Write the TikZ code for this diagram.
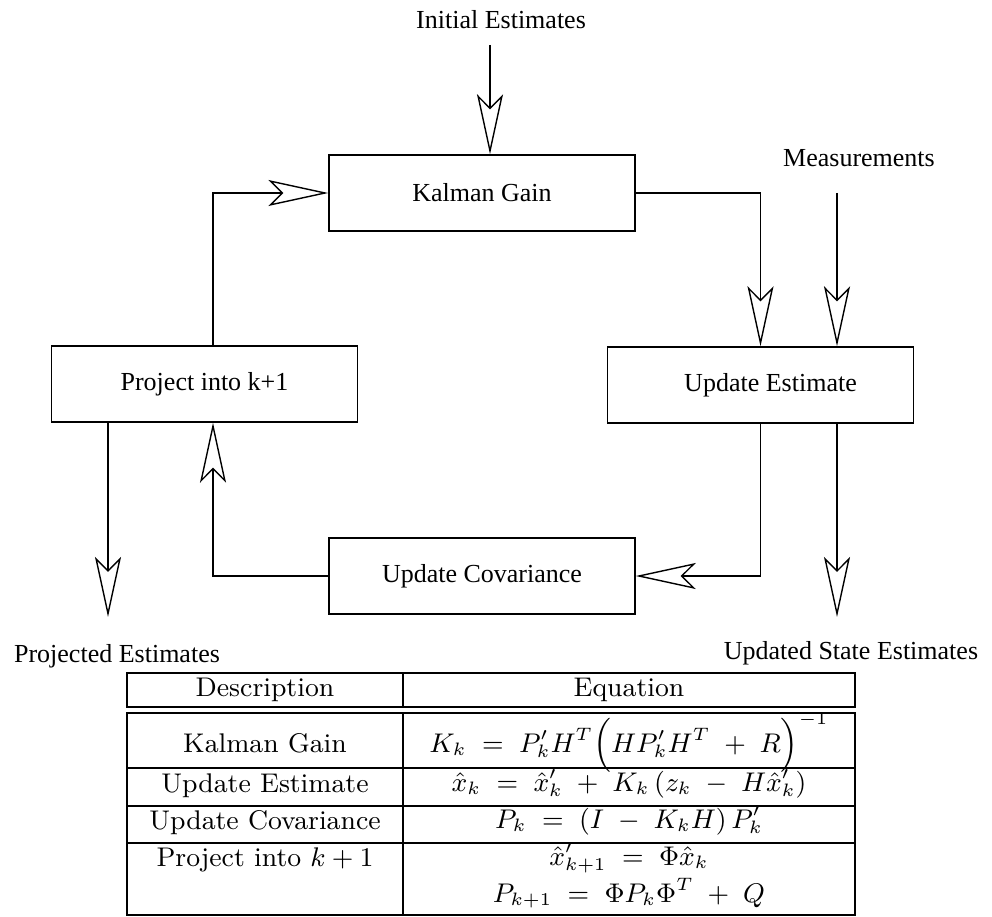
\RequirePackage{fix-cm}
\documentclass[tikz,border=0pt]{standalone}
\usepackage{graphicx}
\usepackage{fontspec}
\newfontfamily\tnr{Liberation Serif}
\usetikzlibrary{arrows.meta}
\newcommand{\lab}{\tnr\fontsize{26}{30}\selectfont}
\newcommand{\tcx}[1]{\scalebox{3}{\fontsize{9}{11}\selectfont #1}}
\newcommand{\gapsp}{\;}
\begin{document}
\begin{tikzpicture}[x=1pt,y=-1pt,
  box/.style={draw, line width=1.4pt, rectangle, minimum width=306pt, minimum height=76pt, inner sep=0pt, font=\lab},
  lbl/.style={font=\lab, inner sep=0pt},
  flow/.style={line width=1.4pt, -{Stealth[open, length=60pt, width=26pt, inset=13pt]}},
  tline/.style={line width=2.4pt},
  tcell/.style={inner sep=0pt, anchor=base}]
\useasboundingbox (0,0) rectangle (992,917);

% boxes
\node[box] (kal)  at (482,193)   {Kalman Gain};
\node[box] (upd)  at (760.5,385) {\hspace*{20pt}Update Estimate};
\node[box] (proj) at (204.5,384) {Project into k+1};
\node[box] (cov)  at (482,576)   {Update Covariance};

% free labels
\node[lbl] (init) at (501,20)  {Initial Estimates};
\node[lbl] (meas) at (859,158) {Measurements};
\node[lbl] (pe)   at (117,656) {Projected Estimates};
\node[lbl] (use)  at (851,653) {Updated State Estimates};

% helper coordinates
\coordinate (i0) at (490,45);
\coordinate (m0) at (837,193);
\coordinate (pl) at (213,0);
\coordinate (pd) at (108,0);
\coordinate (pend) at (108,617);
\coordinate (uend) at (837,617);

% connectors
\draw[flow] (i0) -- (i0 |- kal.north);
\draw[flow] (m0) -- (m0 |- upd.north);
\draw[flow] (kal.east) -| (upd.north);
\draw[flow] (proj.north -| pl) |- (kal.west);
\draw[flow] (upd.south) |- (cov.east);
\draw[flow] (cov.west) -| (proj.south -| pl);
\draw[flow] (proj.south -| pd) -- (pend);
\draw[flow] (upd.south -| m0) -- (uend);

% table
\draw[tline] (127,673) rectangle (855,707);
\draw[tline] (127,713) rectangle (855,915);
\draw[tline] (403,673) -- (403,707);
\draw[tline] (403,713) -- (403,915);
\draw[tline] (127,768) -- (855,768);
\draw[tline] (127,806) -- (855,806);
\draw[tline] (127,843) -- (855,843);

\node[tcell] (hd)  at (265,696) {\tcx{Description}};
\node[tcell] (he)  at (629,696) {\tcx{Equation}};
\node[tcell] (r1d) at (265,752) {\tcx{Kalman Gain}};
\node[tcell] (r2d) at (265,792) {\tcx{Update Estimate}};
\node[tcell] (r3d) at (265,829) {\tcx{Update Covariance}};
\node[tcell] (r4d) at (265,866) {\tcx{Project into $k+1$}};

\node[tcell] (r1e) at (629,752) {\tcx{$K_k \gapsp=\gapsp P'_k H^T \smash{\Bigl(} H P'_k H^T \gapsp+\gapsp R \smash{\Bigr)^{-1}}$}};
\node[tcell] (r2e) at (629,791) {\tcx{$\hat x_k \gapsp=\gapsp \hat x'_k \gapsp+\gapsp K_k \, ( z_k \gapsp-\gapsp H \hat x'_k )$}};
\node[tcell] (r3e) at (629,828) {\tcx{$P_k \gapsp=\gapsp ( I \gapsp-\gapsp K_k H )\, P'_k$}};
\node[tcell] (r4e) at (629,865) {\tcx{$\hat x'_{k+1} \gapsp=\gapsp \Phi \hat x_k$}};
\node[tcell] (r5e) at (629,902) {\tcx{$P_{k+1} \gapsp=\gapsp \Phi P_k \Phi^T \gapsp+\gapsp Q$}};
\end{tikzpicture}
\end{document}
